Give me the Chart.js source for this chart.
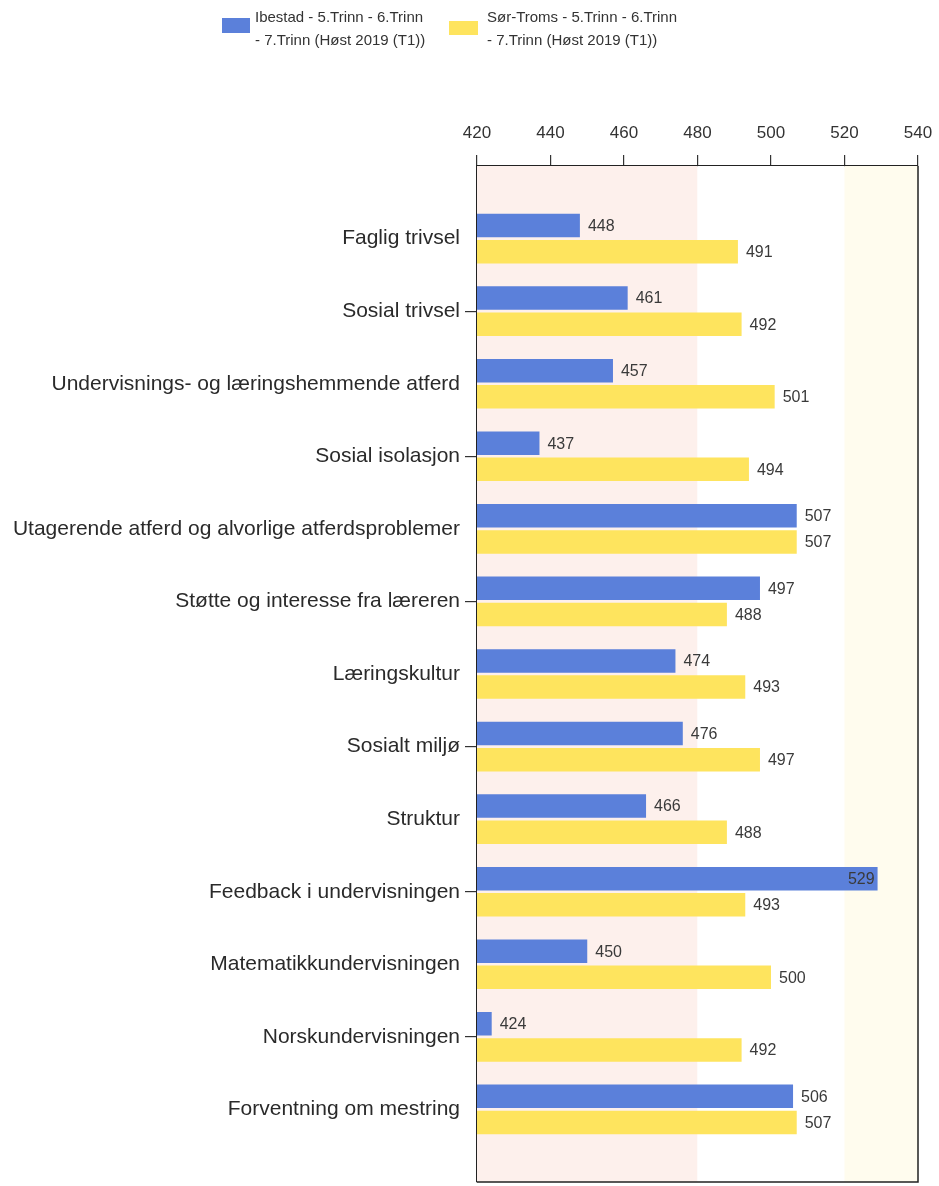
<!DOCTYPE html>
<html>
<head>
<meta charset="utf-8">
<script src="https://cdn.jsdelivr.net/npm/chart.js@4/dist/chart.umd.min.js"></script>
<style>
    body { margin: 0; background: #fff; font-family: "Liberation Sans", Arial, sans-serif; }
    #wrap { position: relative; width: 939px; height: 1186px; }
    .swatch { position: absolute; }
    .legend-text { position: absolute; font-size: 15px; line-height: 23px; color: #333; white-space: nowrap; }
</style>
</head>
<body>
<div id="wrap">
    <canvas id="barChart" width="939" height="1186"></canvas>
    <div class="swatch" style="left:222px;top:18px;width:28px;height:15px;background:#5b80da;"></div>
    <div class="legend-text" style="left:255px;top:5px;">Ibestad - 5.Trinn - 6.Trinn<br>- 7.Trinn (Høst 2019 (T1))</div>
    <div class="swatch" style="left:449px;top:21px;width:29px;height:14px;background:#fee45e;"></div>
    <div class="legend-text" style="left:487px;top:5px;">Sør-Troms - 5.Trinn - 6.Trinn<br>- 7.Trinn (Høst 2019 (T1))</div>
</div>
<script>
const categories = [
    'Faglig trivsel',
    'Sosial trivsel',
    'Undervisnings- og læringshemmende atferd',
    'Sosial isolasjon',
    'Utagerende atferd og alvorlige atferdsproblemer',
    'Støtte og interesse fra læreren',
    'Læringskultur',
    'Sosialt miljø',
    'Struktur',
    'Feedback i undervisningen',
    'Matematikkundervisningen',
    'Norskundervisningen',
    'Forventning om mestring'
];
const ibestad = [448, 461, 457, 437, 507, 497, 474, 476, 466, 529, 450, 424, 506];
const sorTroms = [491, 492, 501, 494, 507, 488, 493, 497, 488, 493, 500, 492, 507];
const seriesNames = ['Ibestad - 5.Trinn - 6.Trinn - 7.Trinn (Høst 2019 (T1))', 'Sør-Troms - 5.Trinn - 6.Trinn - 7.Trinn (Høst 2019 (T1))'];
const xTicks = [420, 440, 460, 480, 500, 520, 540];
// shaded ranges behind the bars
const bandFrom = [420, 480, 520];
const bandTo = [480, 520, 540];
const bandColors = ['#fdf0ec', '#ffffff', '#fffcee'];

const backgroundBands = {
    id: 'backgroundBands',
    beforeDatasetsDraw(chart) {
        const { ctx, chartArea, scales } = chart;
        ctx.save();
        for (let i = 0; i < bandFrom.length; i++) {
            const x1 = scales.x.getPixelForValue(bandFrom[i]);
            const x2 = scales.x.getPixelForValue(bandTo[i]);
            ctx.fillStyle = bandColors[i];
            ctx.fillRect(x1, chartArea.top, x2 - x1, chartArea.bottom - chartArea.top);
        }
        ctx.restore();
    },
    afterDraw(chart) {
        const { ctx, chartArea } = chart;
        ctx.save();
        ctx.strokeStyle = '#222';
        ctx.lineWidth = 1.5;
        ctx.beginPath();
        ctx.moveTo(chartArea.right, chartArea.top);
        ctx.lineTo(chartArea.right, chartArea.bottom);
        ctx.lineTo(chartArea.left, chartArea.bottom);
        ctx.stroke();
        ctx.restore();
    }
};

const valueLabels = {
    id: 'valueLabels',
    afterDatasetsDraw(chart) {
        const ctx = chart.ctx;
        ctx.save();
        ctx.font = '16px "Liberation Sans", Arial, sans-serif';
        ctx.fillStyle = '#3a3a3a';
        ctx.textBaseline = 'middle';
        chart.data.datasets.forEach((ds, di) => {
            chart.getDatasetMeta(di).data.forEach((bar, i) => {
                const v = ds.data[i].x;
                if (v > 520) {
                    ctx.textAlign = 'right';
                    ctx.fillText(v, bar.x - 3, bar.y + 1);
                } else {
                    ctx.textAlign = 'left';
                    ctx.fillText(v, bar.x + 8, bar.y + 1);
                }
            });
        });
        ctx.restore();
    }
};

function drawChart() {
    const ctx = document.getElementById('barChart').getContext('2d');
    new Chart(ctx, {
        type: 'bar',
        data: {
            datasets: [
                {
                    label: seriesNames[0],
                    data: ibestad.map((v, i) => ({ x: v, y: i })),
                    backgroundColor: '#5b80da',
                    categoryPercentage: 0.72,
                    barPercentage: 0.9,
                },
                {
                    label: seriesNames[1],
                    data: sorTroms.map((v, i) => ({ x: v, y: i })),
                    backgroundColor: '#fee45e',
                    categoryPercentage: 0.72,
                    barPercentage: 0.9,
                },
            ],
        },
        options: {
            indexAxis: 'y',
            responsive: false,
            animation: false,
            layout: { padding: { top: 100, right: 21, bottom: 4, left: 0 } },
            plugins: {
                legend: { display: false },
                tooltip: { enabled: false },
            },
            scales: {
                x: {
                    type: 'linear',
                    position: 'top',
                    min: xTicks[0],
                    max: xTicks[xTicks.length - 1],
                    afterBuildTicks: (scale) => { scale.ticks = xTicks.map(v => ({ value: v })); },
                    afterFit: (scale) => {
                        scale.height = 66;
                        scale.paddingLeft = 0;
                        scale.paddingRight = 0;
                    },
                    ticks: {
                        color: '#333',
                        padding: 11,
                        font: { family: '"Liberation Sans", Arial, sans-serif', size: 17 },
                    },
                    grid: { drawOnChartArea: false, tickLength: 11, color: '#333', lineWidth: 1.2 },
                    border: { display: true, color: '#222', width: 1.5 },
                },
                y: {
                    type: 'linear',
                    reverse: true,
                    offset: false,
                    min: -1,
                    max: categories.length,
                    afterFit: (scale) => {
                        scale.width = 477;
                        scale.paddingTop = 0;
                        scale.paddingBottom = 0;
                    },
                    ticks: {
                        stepSize: 1,
                        autoSkip: false,
                        color: '#2a2a2a',
                        padding: 5,
                        font: { family: '"Liberation Sans", Arial, sans-serif', size: 21 },
                        callback: (v) => categories[v] || '',
                    },
                    grid: {
                        offset: false,
                        drawOnChartArea: false,
                        tickLength: 12,
                        lineWidth: 1.2,
                        tickColor: (c) => {
                            const v = c.tick ? c.tick.value : -1;
                            return (v >= 0 && v < categories.length && v % 2 === 1) ? '#333' : 'rgba(0,0,0,0)';
                        },
                    },
                    border: { display: true, color: '#222', width: 1.5 },
                },
            },
        },
        plugins: [backgroundBands, valueLabels],
    });
}

drawChart();
</script>
</body>
</html>
